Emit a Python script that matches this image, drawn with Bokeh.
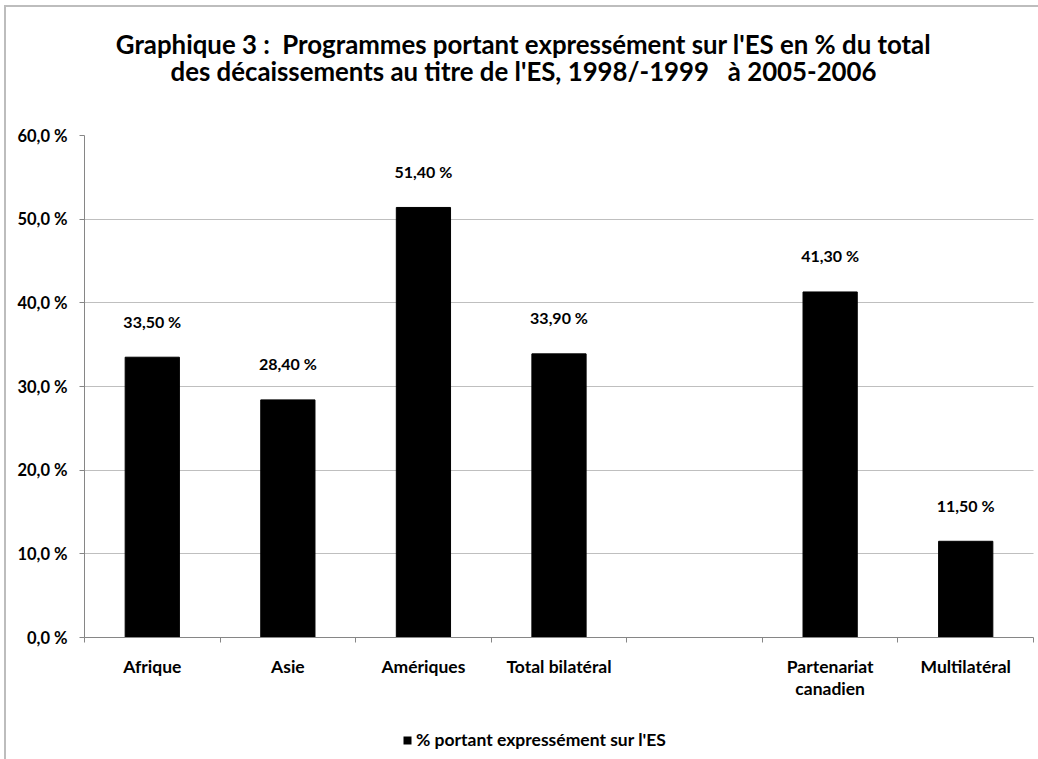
from bokeh.plotting import figure
from bokeh.layouts import column
from bokeh.models import FixedTicker, Range1d, Legend, LegendItem, ColumnDataSource
from bokeh.core.properties import value
from bokeh.embed import file_html
from bokeh.resources import INLINE

# ---- data ----
categories = ["Afrique", "Asie", "Amériques", "Total bilatéral", "",
              "Partenariat\ncanadien", "Multilatéral"]
values = [33.5, 28.4, 51.4, 33.9, None, 41.3, 11.5]
y_ticks = [0, 10, 20, 30, 40, 50, 60]
y_tick_labels = ["0,0 %", "10,0 %", "20,0 %", "30,0 %", "40,0 %", "50,0 %", "60,0 %"]
series_name = "% portant expressément sur l'ES"
title_lines = ["Graphique 3 :\u00a0\u00a0Programmes portant expressément sur l'ES en % du total",
               "des décaissements au titre de l'ES, 1998/-1999\u00a0\u00a0\u00a0à 2005-2006"]

FONT = "Lato"
GRAY = "#868686"
BAR = "black"
W = 1032
FL, FR = 84, 1033          # page x of the plot frame (frames are aligned in the column)

# ---- title strip ----
TH = 100
pt = figure(width=W, height=TH, x_range=Range1d(FL, FR), y_range=Range1d(TH, 0),
            x_axis_type=None, y_axis_type=None, output_backend="svg",
            toolbar_location=None, min_border_left=78, min_border_right=5,
            min_border_top=0, min_border_bottom=0)
pt.outline_line_color = None
pt.grid.visible = False
pt.text(x=[523, 523], y=[36, 63], text=title_lines, text_align="center",
        text_baseline="middle", text_font=value(FONT), text_font_style="bold",
        text_font_size="25.8px", text_color="black")

# ---- main chart ----
xs = [i + 0.5 for i, v in enumerate(values) if v is not None]
vs = [v for v in values if v is not None]
labels = [f"{v:.2f}".replace(".", ",") + " %" for v in vs]
src = ColumnDataSource(dict(x=xs, top=vs, label=labels))

MH = 610
p = figure(width=W, height=MH,
           x_range=Range1d(0, len(categories)), y_range=Range1d(y_ticks[0], y_ticks[-1]),
           output_backend="svg", toolbar_location=None,
           min_border_left=78, min_border_right=5, min_border_top=28, min_border_bottom=80)
p.outline_line_color = None

r = p.vbar(x="x", top="top", width=0.4, bottom=0, source=src,
           fill_color=BAR, line_color=BAR)

p.text(x="x", y="top", text="label", source=src, text_align="center",
       text_baseline="middle", y_offset=-36, text_font=value(FONT),
       text_font_style="bold", text_font_size="16px", text_color="black")

# x axis: ticks on category boundaries, labels centred
xa = p.xaxis[0]
xa.ticker = FixedTicker(ticks=[i + 0.5 for i in range(len(categories))],
                        minor_ticks=list(range(len(categories) + 1)))
xa.major_label_overrides = {i + 0.5: c for i, c in enumerate(categories)}
xa.major_tick_line_color = None
xa.major_tick_out = 0
xa.major_tick_in = 0
xa.minor_tick_in = 0
xa.minor_tick_out = 5
xa.minor_tick_line_color = GRAY
xa.axis_line_color = GRAY
xa.major_label_standoff = 13
xa.major_label_text_font = FONT
xa.major_label_text_font_style = "bold"
xa.major_label_text_font_size = "17.5px"
xa.major_label_text_line_height = 1.05
xa.major_label_text_color = "black"

# y axis
ya = p.yaxis[0]
ya.ticker = FixedTicker(ticks=y_ticks, minor_ticks=[])
ya.major_label_overrides = {t: l for t, l in zip(y_ticks, y_tick_labels)}
ya.major_tick_in = 0
ya.major_tick_out = 5
ya.major_tick_line_color = GRAY
ya.axis_line_color = GRAY
ya.minor_tick_line_color = None
ya.major_label_standoff = 12
ya.major_label_text_font = FONT
ya.major_label_text_font_style = "bold"
ya.major_label_text_font_size = "16.5px"
ya.major_label_text_color = "black"

p.xgrid.visible = False
p.ygrid.grid_line_color = "#7f7f7f"
p.ygrid.grid_line_dash = "1 1"
p.ygrid.grid_line_width = 1

# ---- legend strip ----
LH = 752 - TH - MH
pl = figure(width=W, height=LH, x_range=Range1d(0, len(categories)), y_range=Range1d(100, 101),
            x_axis_type=None, y_axis_type=None, output_backend="svg",
            toolbar_location=None, min_border_left=78, min_border_right=5,
            min_border_top=0, min_border_bottom=0)
pl.outline_line_color = None
pl.grid.visible = False
# same series (below this strip's view) only to supply the legend key
key = pl.vbar(x="x", top="top", width=0.4, bottom=0, source=src,
              fill_color=BAR, line_color=None)
legend = Legend(items=[LegendItem(label=series_name, renderers=[key])],
                location=(318, 9), orientation="horizontal",
                padding=0, margin=0, border_line_color=None,
                background_fill_alpha=0, glyph_width=10, glyph_height=10,
                label_height=14, label_standoff=4,
                label_text_font=FONT, label_text_font_style="bold",
                label_text_font_size="17.5px", label_text_color="black")
pl.add_layout(legend, "center")

layout = column(pt, p, pl, spacing=0,
                styles={"border-left": "2px solid #bdbdbd", "border-top": "2px solid #bdbdbd",
                        "margin-left": "4px", "margin-top": "5px"})

open("out.html", "w").write(file_html(layout, INLINE))
